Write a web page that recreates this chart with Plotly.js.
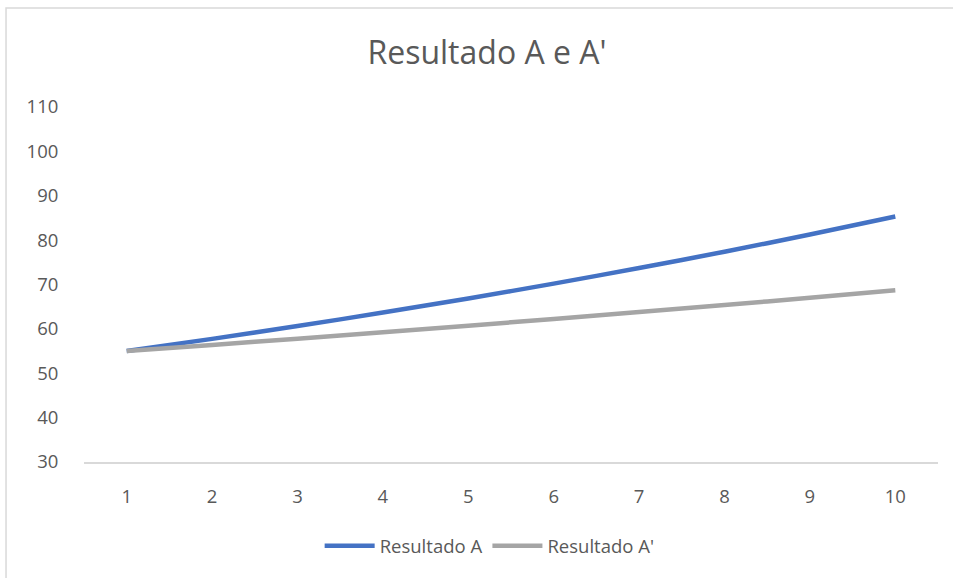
<!DOCTYPE html>
<html>
<head>
<meta charset="utf-8">
<script src="https://cdn.plot.ly/plotly-3.0.1.min.js"></script>
<style>html,body{margin:0;padding:0;background:#fff;}#chart{width:953px;height:578px;}</style>
</head>
<body>
<div id="chart"></div>
<script>
const categories = [1, 2, 3, 4, 5, 6, 7, 8, 9, 10];
const resultadoA = [55, 57.75, 60.64, 63.67, 66.85, 70.20, 73.71, 77.39, 81.26, 85.32];
const resultadoA2 = [55, 56.38, 57.78, 59.23, 60.71, 62.23, 63.78, 65.38, 67.01, 68.69];
const yTicks = [30, 40, 50, 60, 70, 80, 90, 100, 110];

const font = "'Open Sans', 'Liberation Sans', sans-serif";
const traces = [
  {x: categories, y: resultadoA, name: 'Resultado A', type: 'scatter', mode: 'lines',
   line: {color: '#4472C4', width: 4.5, shape: 'spline', smoothing: 0.6}},
  {x: categories, y: resultadoA2, name: "Resultado A'", type: 'scatter', mode: 'lines',
   line: {color: '#A5A5A5', width: 4.5, shape: 'spline', smoothing: 0.6}}
];
const layout = {
  width: 953, height: 578,
  margin: {l: 84, r: 15, t: 107, b: 116},
  paper_bgcolor: '#fff', plot_bgcolor: '#fff',
  title: {text: "Resultado A e A'", x: 0.511, xanchor: 'center', y: 0.908, yanchor: 'middle',
          font: {family: font, size: 32, color: '#595959'}},
  xaxis: {range: [0.5, 10.5], tickvals: categories, ticktext: categories.map(String),
          showgrid: false, zeroline: false, showline: true, linecolor: '#D9D9D9', linewidth: 1.5,
          ticks: 'outside', ticklen: 17, tickcolor: 'rgba(0,0,0,0)',
          tickfont: {family: font, size: 18.5, color: '#595959'}},
  yaxis: {range: [30, 110], tickvals: yTicks, showgrid: false, zeroline: false, showline: false,
          ticks: 'outside', ticklen: 21, tickcolor: 'rgba(0,0,0,0)',
          tickfont: {family: font, size: 18.5, color: '#595959'}},
  showlegend: true,
  legend: {orientation: 'h', x: 0.475, xanchor: 'center', y: -0.237, yanchor: 'middle',
           font: {family: font, size: 18.5, color: '#595959'}, itemwidth: 50, tracegroupgap: 0},
  shapes: [{type: 'rect', xref: 'paper', yref: 'paper', x0: -0.0913, x1: 1.1, y0: -0.36, y1: 1.2789,
            line: {color: '#D9D9D9', width: 1.5}, fillcolor: 'rgba(0,0,0,0)', layer: 'below'}]
};
Plotly.newPlot('chart', traces, layout, {displayModeBar: false, staticPlot: true});
</script>
</body>
</html>
